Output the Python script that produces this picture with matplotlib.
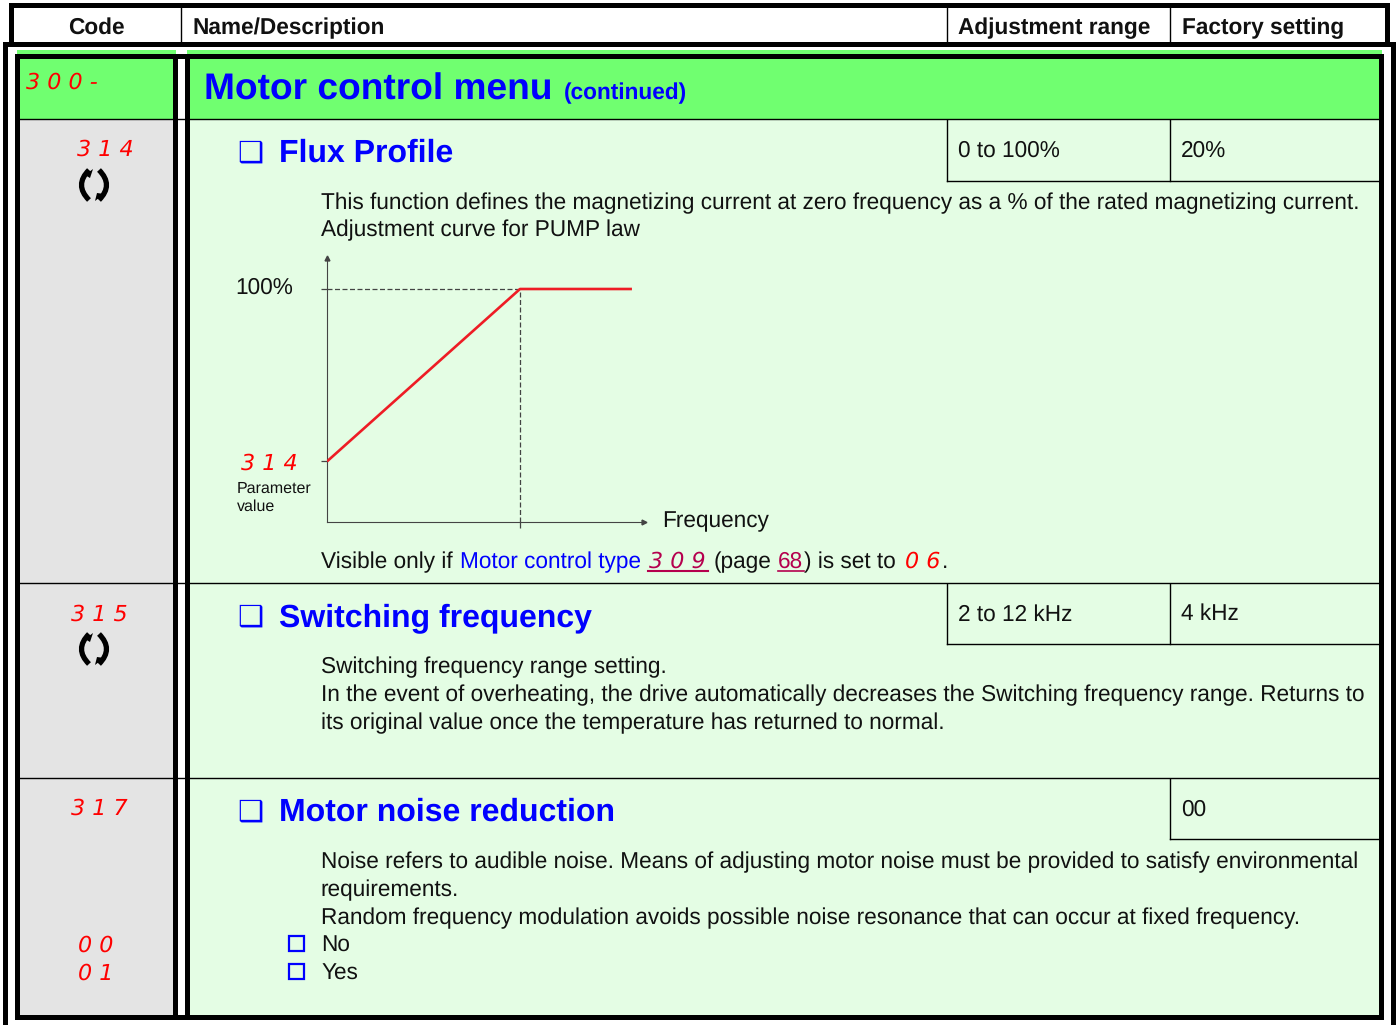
import matplotlib
matplotlib.use("Agg")
import matplotlib.pyplot as plt
from matplotlib.patches import Rectangle, PathPatch, Polygon
from matplotlib.path import Path

plt.rcParams["text.hinting"] = "no_hinting"
plt.rcParams["text.hinting_factor"] = 8

# curve values, frequency as % of the knee and flux as %
curve_freq = [0, 100, 158]
curve_flux = [26, 100, 100]
tick_flux = [26, 100]

header_labels = ["Code", "Name/Description", "Adjustment range", "Factory setting"]
section_codes = ["3 1 4", "3 1 5", "3 1 7"]
section_titles = ["Flux Profile", "Switching frequency", "Motor noise reduction"]
range_values = ["0 to 100%", "2 to 12 kHz"]
factory_values = ["20%", "4 kHz", "00"]
option_codes = ["0 0", "0 1"]
option_labels = ["No", "Yes"]

flux_text = ["This function defines the magnetizing current at zero frequency as a % of the rated magnetizing current.",
             "Adjustment curve for PUMP law"]
switch_text = ["Switching frequency range setting.",
               "In the event of overheating, the drive automatically decreases the Switching frequency range. Returns to",
               "its original value once the temperature has returned to normal."]
noise_text = ["Noise refers to audible noise. Means of adjusting motor noise must be provided to satisfy environmental",
              "requirements.",
              "Random frequency modulation avoids possible noise resonance that can occur at fixed frequency."]

W, H = 1396, 1025
BODY = 16.25
SANS = "Liberation Sans"
BLUE = "#0000ff"
RED = "#ff0000"
LINK = "#b5004e"
BRIGHT = "#70ff70"
PALE = "#e4fde4"
GRAY = "#e4e4e4"

fig = plt.figure(figsize=(W / 100, H / 100), dpi=100, facecolor="white")
ax = fig.add_axes([0, 0, 1, 1])
ax.set_xlim(0, W)
ax.set_ylim(H, 0)
ax.axis("off")


def box(x0, y0, x1, y1, color, z=1):
    ax.add_patch(Rectangle((x0, y0), x1 - x0, y1 - y0, fc=color, ec="none", zorder=z))


def body(x, y, s, color="#111111", size=BODY, weight="normal"):
    return ax.text(x, y, s, color=color, fontsize=size, family=SANS, weight=weight, va="baseline", zorder=6)


def code(x, y, s, color=RED, size=16):
    return ax.text(x, y, s, color=color, fontsize=size, family="DejaVu Sans", style="oblique",
                   ha="left", va="baseline", zorder=6)


def refresh(cx, cy):
    for sign in (-1, 1):
        top = (cx + sign * 5, cy - 15)
        mid = (cx + sign * 20, cy)
        bottom = (cx + sign * 5, cy + 15)
        ax.add_patch(PathPatch(Path([top, mid, bottom], [Path.MOVETO, Path.CURVE3, Path.CURVE3]),
                               fc="none", ec="black", lw=3.8, zorder=6, capstyle="butt"))
    ax.add_patch(Polygon([(cx - 9, cy - 10), (cx - 1, cy - 16), (cx - 4, cy - 7)], fc="black", ec="none", zorder=6))
    ax.add_patch(Polygon([(cx + 10, cy + 9), (cx + 1, cy + 16), (cx + 3, cy + 8)], fc="black", ec="none", zorder=6))


# header block
box(9, 3, 1390, 8, "black", 3)
box(9, 3, 14, 47, "black", 3)
box(1385, 3, 1390, 47, "black", 3)
box(4, 42, W, 47, "black", 3)
box(3, 42, 8, H, "black", 3)
box(1391, 42, W, H, "black", 3)
for x in (181, 947, 1170):
    ax.plot([x, x], [8, 42], color="black", lw=1, zorder=3)
ax.text(96.5, 34, header_labels[0], fontsize=16.3, weight="bold", family=SANS, ha="center", color="#111111")
for x, s in zip((192.5, 958, 1182), header_labels[1:]):
    ax.text(x, 34, s, fontsize=16.3, weight="bold", family=SANS, color="#111111")

# coloured areas
box(17, 50, 176, 54, BRIGHT)
box(187, 50, 1382, 54, BRIGHT)
box(20, 59, 173, 119, BRIGHT)
box(190, 59, 1379, 119, BRIGHT)
box(20, 119, 173, 1015, GRAY)
box(190, 119, 1379, 1015, PALE)

# inner frame
box(15, 54, 1384, 59, "black", 4)
box(15, 54, 20, 1020, "black", 4)
box(173, 54, 178, 1020, "black", 4)
box(185, 54, 190, 1020, "black", 4)
box(1379, 54, 1384, 1020, "black", 4)
box(16, 1015, 1384, 1020, "black", 4)

# rules between rows
for y in (119, 583, 778):
    ax.plot([20, 1379], [y, y], color="black", lw=1, zorder=3)
for y in (180.5, 644):
    ax.plot([947, 1379], [y, y], color="black", lw=1, zorder=3)
ax.plot([1170, 1379], [839, 839], color="black", lw=1, zorder=3)
for x, y0, y1 in ((947, 120, 181), (1170, 120, 181), (947, 584, 644), (1170, 584, 644), (1170, 779, 839)):
    ax.plot([x, x], [y0, y1], color="black", lw=1, zorder=3)

# menu title
code(26, 89, "3 0 0 -")
body(204, 99.6, "Motor control menu", BLUE, 26.75, "bold")
body(564, 99, "(continued)", BLUE, 16.3, "bold")

# section titles
for y, s in zip((162, 626, 821), section_titles):
    ax.text(237, y, "\u2751", color=BLUE, fontsize=21, family="DejaVu Sans", zorder=6)
    body(279, y, s, BLUE, 23.0, "bold")
for y, x, s in zip((156, 621, 815), (77, 71, 71), section_codes):
    code(x, y, s)
refresh(94, 185)
refresh(94, 649)

for y, s in zip((157, 620.5, 815.5), range_values):
    body(958, y, s)
for y, s in zip((157, 620.5, 815.5), factory_values):
    body(1181, y, s)

# paragraphs
for y, s in zip((209, 236.5), flux_text):
    body(321, y, s)
for y, s in zip((673, 701, 729), switch_text):
    body(321, y, s)
for y, s in zip((868, 896, 924), noise_text):
    body(321, y, s)

# visible-only line
body(321, 568, "Visible only if")
body(460, 568, "Motor control type", BLUE)
code(649, 568, "3 0 9", LINK)
ax.plot([648, 708], [570.5, 570.5], color=LINK, lw=1.5, zorder=6)
body(714, 568, "(page")
body(778, 568, "68", LINK)
ax.plot([778, 804], [570.5, 570.5], color=LINK, lw=1.2, zorder=6)
body(804, 568, ") is set to")
code(905, 568, "0 6")
body(942, 568, ".")

# option rows
for y, s, c in zip((952, 980), option_labels, option_codes):
    body(321, y, s)
    ax.add_patch(Rectangle((289, y - 16), 15, 15, fc="none", ec=BLUE, lw=1.6, zorder=6))
    code(78, y, c)

# adjustment curve
cx0, cx1, cy0, cy1 = 327, 644, 522, 258
curve = fig.add_axes([cx0 / W, 1 - cy0 / H, (cx1 - cx0) / W, (cy0 - cy1) / H])
curve.patch.set_alpha(0)
curve.set_xlim(0, (cx1 - cx0) / 1.93)
curve.set_ylim(0, (cy0 - cy1) / 2.33)
curve.spines[["top", "right"]].set_visible(False)
curve.spines[["left", "bottom"]].set_color("#444444")
curve.plot(curve_freq, curve_flux, color="#ee1c25", lw=1.9, zorder=5, solid_capstyle="butt")
curve.plot([0, curve_freq[1]], [curve_flux[1], curve_flux[1]], color="#444444", lw=0.9, ls=(0, (4, 2)))
curve.plot([curve_freq[1], curve_freq[1]], [0, curve_flux[1]], color="#444444", lw=0.9, ls=(0, (4, 2)))
curve.plot(1, 0, ">", color="#444444", ms=3.5, transform=curve.transAxes, clip_on=False)
curve.plot(0, 1, "^", color="#444444", ms=3.5, transform=curve.transAxes, clip_on=False)
curve.set_yticks(tick_flux, ["", ""])
curve.set_xticks([curve_freq[1]], [""])
curve.tick_params(length=4.5, width=0.9, color="#444444", direction="out")

body(235, 294, "100%")
code(241, 470, "3 1 4")
body(237, 493, "Parameter", size=11.5)
body(237, 511, "value", size=11.5)
body(662, 527, "Frequency")

fig.savefig("out.png", dpi=100)
